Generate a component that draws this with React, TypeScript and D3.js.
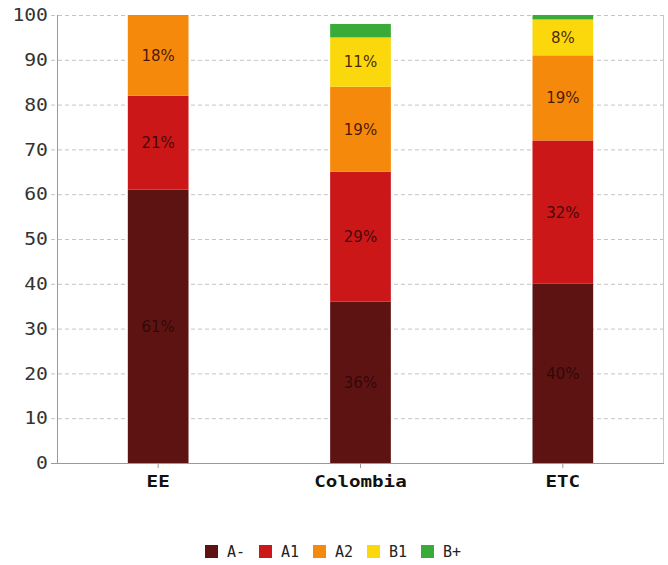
import { useEffect, useRef } from "react"
import * as d3 from "d3"

const categories = ["EE", "Colombia", "ETC"]
const levels = ["A-", "A1", "A2", "B1", "B+"]
const levelColors = ["#5e1313", "#cc1719", "#f5890b", "#fad80c", "#3aab39"]
// values per level, one entry per category
const valuesAminus = [61, 36, 40]
const valuesA1 = [21, 29, 32]
const valuesA2 = [18, 19, 19]
const valuesB1 = [0, 11, 8]
const valuesBplus = [0, 3, 1]
const yTicks = [0, 10, 20, 30, 40, 50, 60, 70, 80, 90, 100]

const W = 668
const H = 565

export default function App() {
  const svgRef = useRef<SVGSVGElement>(null)

  useEffect(() => {
    if (!svgRef.current) return
    const svg = d3.select(svgRef.current)
    svg.selectAll("*").remove()

    const margin = { top: 15, right: 4, bottom: 102, left: 57 }
    const chartWidth = W - margin.left - margin.right
    const chartHeight = H - margin.top - margin.bottom
    const font = "'DejaVu Sans Mono', monospace"

    const rows = categories.map((c, i) => ({
      cat: c,
      "A-": valuesAminus[i],
      A1: valuesA1[i],
      A2: valuesA2[i],
      B1: valuesB1[i],
      "B+": valuesBplus[i],
    }))

    const x = d3.scaleBand().domain(categories).range([0, chartWidth]).paddingInner(0).paddingOuter(0)
    const y = d3.scaleLinear().domain([0, 100]).range([chartHeight, 0])
    const color = d3.scaleOrdinal<string, string>().domain(levels).range(levelColors)

    const chart = svg.append("g").attr("transform", `translate(${margin.left}, ${margin.top})`)

    // grid lines
    chart
      .append("g")
      .selectAll("line")
      .data(yTicks.filter((d) => d > 0))
      .enter()
      .append("line")
      .attr("x1", -6)
      .attr("x2", chartWidth)
      .attr("y1", (d) => y(d) + 0.5)
      .attr("y2", (d) => y(d) + 0.5)
      .attr("stroke", "#c4c4c4")
      .attr("stroke-dasharray", "4,3")

    // frame: left, bottom, right
    chart
      .append("line")
      .attr("x1", 0.5)
      .attr("x2", 0.5)
      .attr("y1", 0)
      .attr("y2", chartHeight)
      .attr("stroke", "#9a9a9a")
    chart
      .append("line")
      .attr("x1", chartWidth - 0.5)
      .attr("x2", chartWidth - 0.5)
      .attr("y1", 0)
      .attr("y2", chartHeight)
      .attr("stroke", "#c8c8c8")
    chart
      .append("line")
      .attr("x1", -6)
      .attr("x2", chartWidth)
      .attr("y1", chartHeight + 0.5)
      .attr("y2", chartHeight + 0.5)
      .attr("stroke", "#9a9a9a")

    // y tick labels (slightly stretched horizontally like the original)
    chart
      .append("g")
      .selectAll("text")
      .data(yTicks)
      .enter()
      .append("text")
      .attr("transform", (d) => `translate(-9, ${y(d)}) scale(1.16, 1)`)
      .attr("dy", "0.36em")
      .attr("text-anchor", "end")
      .attr("font-family", font)
      .attr("font-size", 17)
      .attr("fill", "#333")
      .text((d) => d)

    // x ticks + labels
    const xg = chart.append("g").attr("transform", `translate(0, ${chartHeight})`)
    categories.forEach((c) => {
      const cx = (x(c) as number) + x.bandwidth() / 2
      xg.append("line")
        .attr("x1", cx)
        .attr("x2", cx)
        .attr("y1", 0)
        .attr("y2", 5)
        .attr("stroke", "#9a9a9a")
      xg.append("text")
        .attr("transform", `translate(${cx}, 24) scale(1.2, 1)`)
        .attr("text-anchor", "middle")
        .attr("font-family", font)
        .attr("font-weight", "bold")
        .attr("font-size", 16)
        .attr("fill", "#111")
        .text(c)
    })

    // stacked bars
    const stack = d3.stack<any>().keys(levels)
    const series = stack(rows)
    const barWidth = x.bandwidth() * 0.3

    const layer = chart
      .selectAll(".layer")
      .data(series)
      .enter()
      .append("g")
      .attr("fill", (d) => color(d.key))

    layer
      .selectAll("rect")
      .data((d) => d)
      .enter()
      .append("rect")
      .attr("x", (d: any) => (x(d.data.cat) as number) + x.bandwidth() / 2 - barWidth / 2)
      .attr("y", (d) => y(d[1]))
      .attr("width", barWidth)
      .attr("height", (d) => y(d[0]) - y(d[1]))

    // percent labels
    layer
      .selectAll("text")
      .data((d) => d)
      .enter()
      .filter((d) => d[1] - d[0] >= 5)
      .append("text")
      .attr("x", (d: any) => (x(d.data.cat) as number) + x.bandwidth() / 2)
      .attr("y", (d) => y((d[0] + d[1]) / 2))
      .attr("dy", "0.36em")
      .attr("text-anchor", "middle")
      .attr("font-family", "'DejaVu Sans', sans-serif")
      .attr("font-size", 15)
      .attr("fill", "#2a0505")
      .attr("fill-opacity", 0.85)
      .text((d) => `${d[1] - d[0]}%`)

    // legend
    const legend = svg.append("g").attr("transform", `translate(205, 551)`)
    levels.forEach((k, i) => {
      const g = legend.append("g").attr("transform", `translate(${i * 54}, 0)`)
      g.append("rect").attr("x", 0).attr("y", -6).attr("width", 13).attr("height", 13).attr("fill", color(k))
      g.append("text")
        .attr("x", 22)
        .attr("y", 0.5)
        .attr("dy", "0.36em")
        .attr("font-family", font)
        .attr("font-size", 15)
        .attr("fill", "#222")
        .text(k)
    })
  }, [])

  return (
    <div style={{ position: "absolute", left: 0, top: 0 }}>
      <svg ref={svgRef} width={W} height={H} style={{ display: "block", background: "#fff" }} />
    </div>
  )
}
